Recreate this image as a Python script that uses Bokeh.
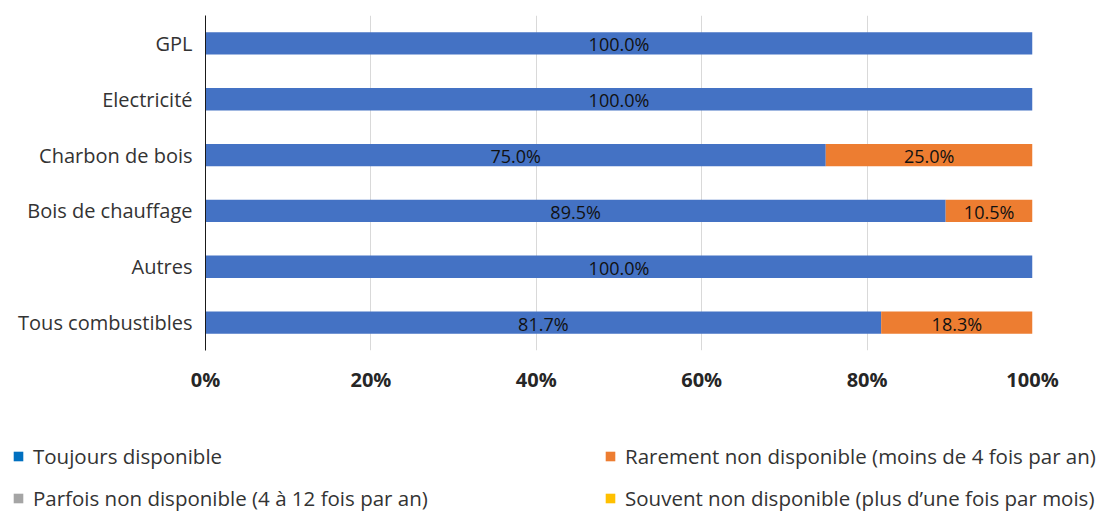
from bokeh.plotting import figure
from bokeh.models import ColumnDataSource, Legend, LegendItem, FactorRange, Range1d, FixedTicker, CustomJSTickFormatter
from bokeh.layouts import column
from bokeh.core.properties import value
from bokeh.embed import file_html
from bokeh.resources import INLINE

categories = ["GPL", "Electricité", "Charbon de bois", "Bois de chauffage", "Autres", "Tous combustibles"]
toujours = [100.0, 100.0, 75.0, 89.5, 100.0, 81.7]
rarement = [0.0, 0.0, 25.0, 10.5, 0.0, 18.3]
series_names = [
    "Toujours disponible",
    "Rarement non disponible (moins de 4 fois par an)",
    "Parfois non disponible (4 à 12 fois par an)",
    "Souvent non disponible (plus d\u2019une fois par mois)",
]
x_ticks = [0, 20, 40, 60, 80, 100]

BLUE = "#4472C4"
ORANGE = "#ED7D31"
LEG_BLUE = "#0070C0"
LEG_ORANGE = "#ED7D31"
LEG_GRAY = "#A5A5A5"
LEG_YELLOW = "#FFC000"

W = 1105
p = figure(width=W, height=400, output_backend="svg", toolbar_location=None,
           y_range=FactorRange(factors=list(reversed(categories)), range_padding=0),
           x_range=Range1d(0, 100),
           min_border_left=205, min_border_right=73, min_border_top=15, min_border_bottom=50)
p.outline_line_color = None

src = ColumnDataSource(dict(
    cat=categories,
    t=toujours,
    r_left=toujours,
    r_right=[a + b for a, b in zip(toujours, rarement)],
    t_mid=[a / 2 for a in toujours],
    r_mid=[a + b / 2 for a, b in zip(toujours, rarement)],
    t_lab=["%.1f%%" % v for v in toujours],
    r_lab=["%.1f%%" % v if v > 0 else "" for v in rarement],
))

p.hbar(y="cat", left=0, right="t", height=0.4, source=src, fill_color=BLUE, line_color=None)
p.hbar(y="cat", left="r_left", right="r_right", height=0.4, source=src, fill_color=ORANGE, line_color=None)

for xcol, lcol in (("t_mid", "t_lab"), ("r_mid", "r_lab")):
    p.text(x=xcol, y="cat", text=lcol, source=src, text_align="center", text_baseline="middle",
           text_font=value("Open Sans"), text_font_size="18px", text_color="#111111", y_offset=1)

# x axis
p.xaxis.ticker = FixedTicker(ticks=x_ticks)
p.xaxis.formatter = CustomJSTickFormatter(code="return tick.toFixed(0) + '%';")
p.xaxis.axis_line_color = None
p.xaxis.major_tick_line_color = None
p.xaxis.minor_tick_line_color = None
p.xaxis.major_label_text_font = "Open Sans"
p.xaxis.major_label_text_font_style = "bold"
p.xaxis.major_label_text_font_size = "20px"
p.xaxis.major_label_text_color = "#262626"
p.xaxis.major_label_standoff = 9

# y axis
p.yaxis.axis_line_color = "#1a1a1a"
p.yaxis.axis_line_width = 1
p.yaxis.major_tick_line_color = None
p.yaxis.minor_tick_line_color = None
p.yaxis.major_label_text_font = "Open Sans"
p.yaxis.major_label_text_font_size = "20px"
p.yaxis.major_label_text_color = "#333333"
p.yaxis.major_label_standoff = 7

p.ygrid.grid_line_color = None
p.xgrid.grid_line_color = "#d9d9d9"
p.xgrid.ticker = FixedTicker(ticks=x_ticks[1:])

# legend figure
lp = figure(width=W, height=112, output_backend="svg", toolbar_location=None,
            x_range=Range1d(0, 1), y_range=Range1d(0, 1),
            x_axis_location=None, y_axis_location=None,
            min_border_left=0, min_border_right=0, min_border_top=0, min_border_bottom=0)
lp.outline_line_color = None
lp.xgrid.grid_line_color = None
lp.ygrid.grid_line_color = None

for fig in (p, lp):
    if "frame_align" in fig.properties():
        fig.frame_align = False

# legend swatches (data lies outside the visible range; only legend glyphs show)
r1 = lp.rect(x=[-10], y=[-10], width=1, height=1, fill_color=LEG_BLUE, line_color=None)
r2 = lp.rect(x=[-10], y=[-10], width=1, height=1, fill_color=LEG_ORANGE, line_color=None)
r3 = lp.rect(x=[-10], y=[-10], width=1, height=1, fill_color=LEG_GRAY, line_color=None)
r4 = lp.rect(x=[-10], y=[-10], width=1, height=1, fill_color=LEG_YELLOW, line_color=None)

def mk_legend(items, loc):
    return Legend(items=items, location=loc, orientation="vertical",
                  glyph_width=12, glyph_height=12, label_height=20, spacing=14,
                  label_standoff=9, padding=0, margin=0,
                  border_line_color=None, background_fill_alpha=0,
                  label_text_font="Open Sans", label_text_font_size="20.5px", label_text_color="#333333")

lp.add_layout(mk_legend([LegendItem(label=series_names[0], renderers=[r1]),
                         LegendItem(label=series_names[2], renderers=[r3])], (12, 0)), "center")
lp.add_layout(mk_legend([LegendItem(label=series_names[1], renderers=[r2]),
                         LegendItem(label=series_names[3], renderers=[r4])], (604, 0)), "center")

open("out.html", "w").write(file_html(column(p, lp, spacing=0), INLINE))
